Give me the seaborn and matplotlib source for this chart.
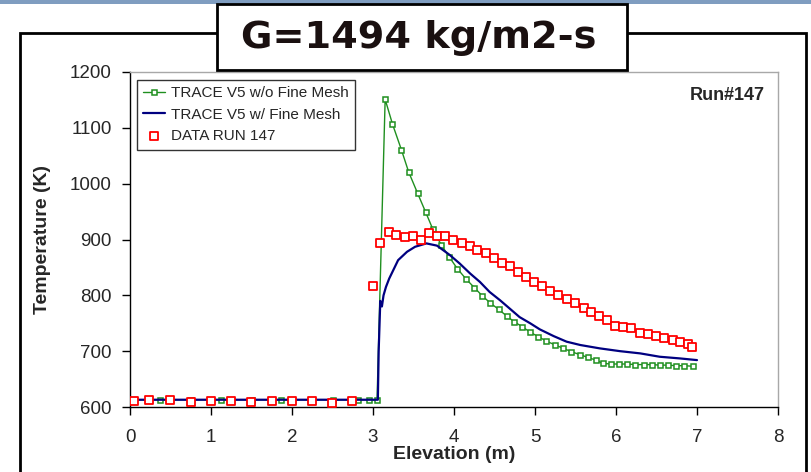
import matplotlib
matplotlib.use("Agg")
import matplotlib.pyplot as plt
import seaborn as sns
import pandas as pd
from matplotlib.patches import Rectangle

# ---- data ----
green_x = [0.0, 0.37, 0.75, 1.12, 1.5, 1.87, 2.25, 2.5, 2.81, 2.95, 3.05,
           3.15, 3.24, 3.35, 3.44, 3.55, 3.65, 3.74, 3.84, 3.94, 4.04, 4.15, 4.25, 4.35,
           4.45, 4.55, 4.65, 4.74, 4.84, 4.94, 5.04, 5.14, 5.25, 5.35, 5.45, 5.55, 5.65,
           5.75, 5.84, 5.94, 6.04, 6.14, 6.24, 6.34, 6.44, 6.54, 6.64, 6.74, 6.84, 6.95]
green_y = [613, 613, 613, 613, 613, 613, 613, 613, 613, 613, 613,
           1151, 1107, 1061, 1021, 983, 949, 918, 891, 869, 848, 829, 814, 799,
           786, 775, 763, 753, 744, 734, 726, 718, 711, 705, 699, 694, 689,
           684, 678, 677, 677, 677, 676, 676, 676, 675, 675, 674, 674, 673]

blue_x = [0.0, 3.06, 3.07, 3.09, 3.11, 3.13, 3.16, 3.2, 3.25, 3.31, 3.42, 3.52, 3.66,
          3.79, 3.95, 4.07, 4.2, 4.32, 4.44, 4.57, 4.69, 4.81, 4.94, 5.06, 5.23, 5.39,
          5.56, 5.8, 6.05, 6.3, 6.54, 6.79, 7.0]
blue_y = [613, 613, 700, 790, 780, 800, 815, 830, 845, 863, 878, 887, 893,
          889, 872, 857, 839, 824, 806, 791, 776, 761, 750, 739, 727, 717,
          711, 705, 700, 696, 690, 687, 684]

red_x = [0.05, 0.24, 0.49, 0.75, 1.0, 1.25, 1.49, 1.75, 2.0, 2.25, 2.49, 2.74, 3.0,
         3.09, 3.2, 3.29, 3.4, 3.49, 3.59, 3.69, 3.79, 3.89, 3.99, 4.1, 4.2, 4.29,
         4.4, 4.49, 4.59, 4.69, 4.79, 4.89, 4.99, 5.09, 5.19, 5.29, 5.39, 5.49, 5.6,
         5.69, 5.79, 5.89, 5.99, 6.09, 6.19, 6.3, 6.4, 6.49, 6.59, 6.7, 6.79, 6.89, 6.94]
red_y = [611, 612, 612, 609, 611, 611, 609, 611, 611, 611, 608, 611, 816,
         894, 914, 908, 904, 907, 900, 911, 907, 906, 900, 894, 888, 882,
         875, 867, 858, 852, 842, 833, 824, 817, 808, 801, 793, 786, 778,
         771, 763, 756, 745, 743, 741, 732, 730, 727, 723, 720, 717, 713, 707]

labels = ["TRACE V5 w/o Fine Mesh", "TRACE V5 w/ Fine Mesh", "DATA RUN 147"]
x_ticks = [0, 1, 2, 3, 4, 5, 6, 7, 8]
y_ticks = [600, 700, 800, 900, 1000, 1100, 1200]
title = "G=1494 kg/m2-s"
run_label = "Run#147"

# ---- style ----
sns.set_style("white")
plt.rcParams['font.family'] = ['Liberation Sans', 'DejaVu Sans']

W, H = 811, 472
fig = plt.figure(figsize=(W / 100, H / 100), dpi=100)

def fx(px):
    return px / W

def fy(py):
    return 1 - py / H

# decorative frame elements
fig.patches.append(Rectangle((0, fy(4)), 1, 4 / H, transform=fig.transFigure,
                             facecolor='#7f9dc0', edgecolor='none', zorder=0))
fig.patches.append(Rectangle((fx(20), fy(480)), fx(806 - 20), (480 - 33) / H,
                             transform=fig.transFigure, facecolor='white',
                             edgecolor='black', linewidth=2, zorder=1))

ax = fig.add_axes([fx(130), fy(407), fx(778 - 130), (407 - 72) / H])
ax.set_zorder(2)

df_g = pd.DataFrame({"x": green_x, "y": green_y})
df_b = pd.DataFrame({"x": blue_x, "y": blue_y})
df_r = pd.DataFrame({"x": red_x, "y": red_y})

sns.lineplot(data=df_g, x="x", y="y", ax=ax, sort=False, estimator=None,
             color='#1f8f1f', linewidth=1.0, marker='s', markersize=3.6,
             markerfacecolor='white', markeredgecolor='#1f8f1f', markeredgewidth=1.1,
             label=labels[0], zorder=3)
sns.lineplot(data=df_b, x="x", y="y", ax=ax, sort=False, estimator=None,
             color='#000080', linewidth=1.6, label=labels[1], zorder=4)
sns.scatterplot(data=df_r, x="x", y="y", ax=ax, marker='s', s=38,
                facecolor='white', edgecolor='#ff0000', linewidth=1.3,
                label=labels[2], zorder=5)

ax.set_xlim(0, 8)
ax.set_ylim(600, 1200)
ax.set_xticks(x_ticks)
ax.set_yticks(y_ticks)
ax.tick_params(axis='both', which='major', labelsize=13.5, length=6, width=1,
               direction='out', color='black', bottom=True, left=True)
ax.tick_params(axis='x', pad=10)
ax.tick_params(axis='y', pad=7)
ax.set_xlabel("Elevation (m)", fontsize=14, fontweight='bold', labelpad=0)
ax.set_ylabel("Temperature (K)", fontsize=14, fontweight='bold', labelpad=14)

for s in ['left', 'bottom']:
    ax.spines[s].set_color('black')
    ax.spines[s].set_linewidth(1.0)
for s in ['top', 'right']:
    ax.spines[s].set_color('#a8a8a8')
    ax.spines[s].set_linewidth(1.0)

leg = ax.legend(loc='upper left', bbox_to_anchor=(0.011, 0.976), borderaxespad=0,
                fontsize=11, frameon=True, fancybox=False, shadow=False,
                handlelength=1.4, handletextpad=0.4, labelspacing=0.5,
                borderpad=0.4)
leg.get_frame().set_edgecolor('black')
leg.get_frame().set_linewidth(1.0)

ax.text(0.98, 0.955, run_label, transform=ax.transAxes, ha='right', va='top',
        fontsize=13, fontweight='bold')

# title box
fig.patches.append(Rectangle((fx(217), fy(70)), fx(627 - 217), (70 - 4) / H,
                             transform=fig.transFigure, facecolor='white',
                             edgecolor='black', linewidth=2, zorder=10))
fig.text(fx(419), fy(38), title, ha='center', va='center', fontsize=27.5,
         fontweight='bold', family=['DejaVu Sans'], color='#1a1010', zorder=11)

fig.savefig("out.png", dpi=100)
